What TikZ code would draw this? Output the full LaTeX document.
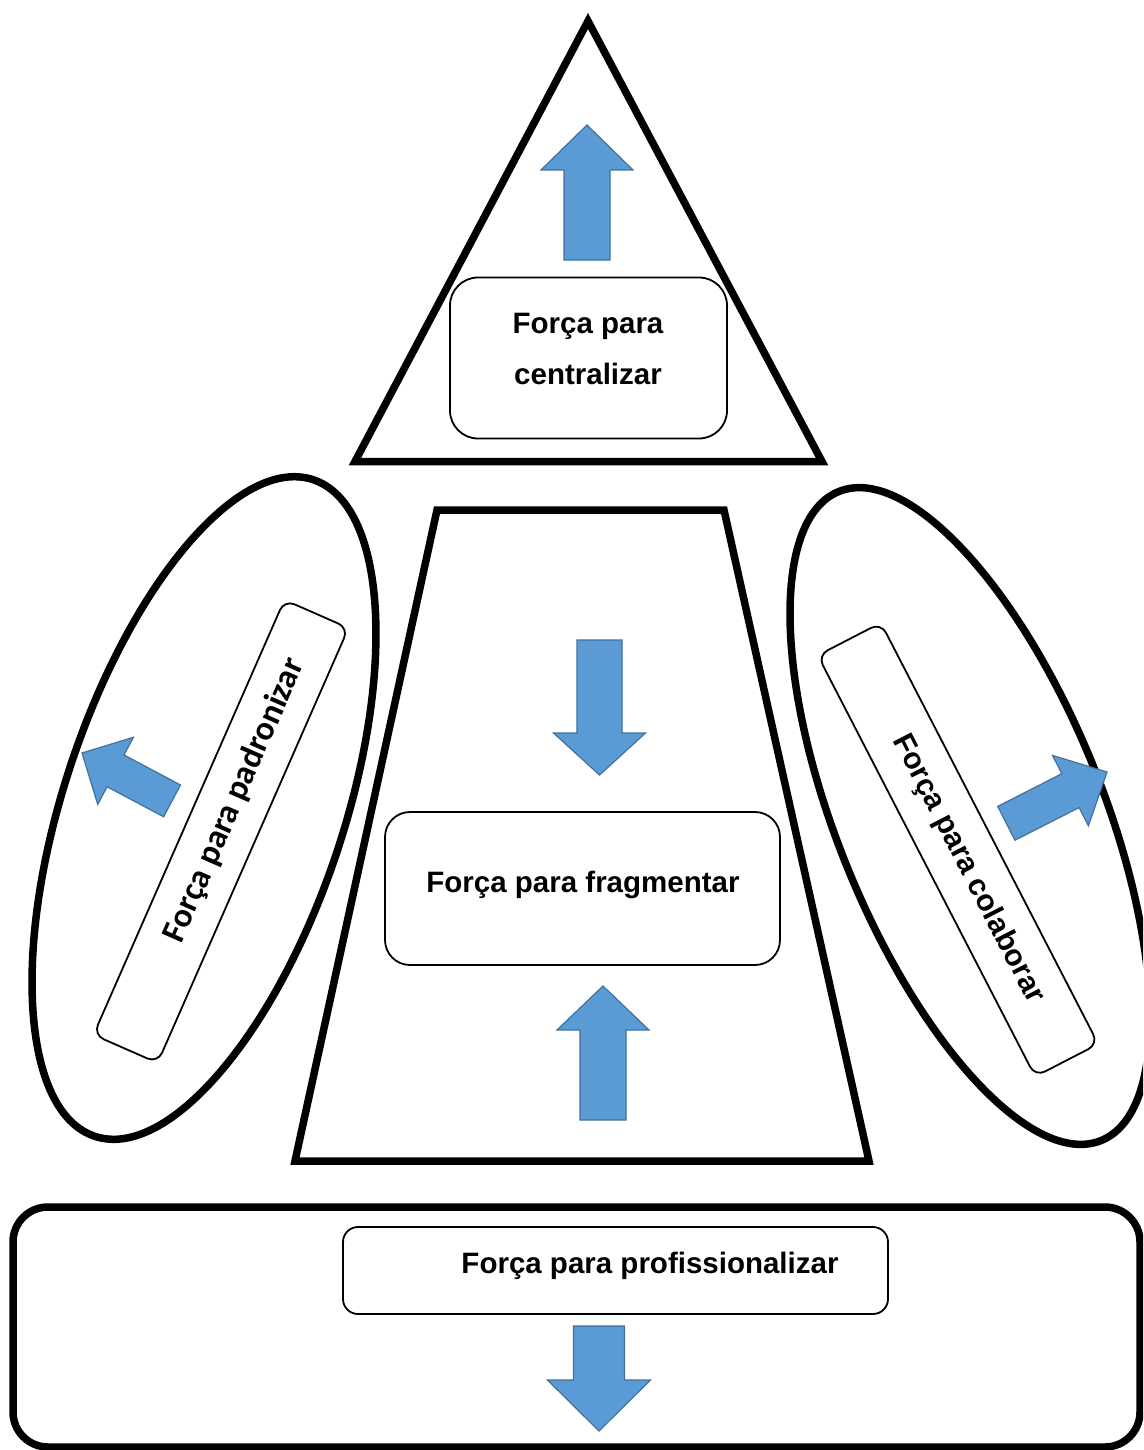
\documentclass[tikz,border=0pt]{standalone}
\usepackage{fontspec}
\setmainfont{Liberation Sans}
\newfontfamily\carl{Carlito}
\usetikzlibrary{shapes.geometric}
\definecolor{arrowfill}{HTML}{5B9BD5}
\definecolor{arrowline}{HTML}{41719C}
\tikzset{
  outline/.style={draw=black, line width=7.5pt, line join=miter},
  ellshape/.style={draw=black, line width=7.5pt, ellipse, inner sep=0pt, outer sep=0pt},
  rbox/.style={draw=black, line width=1.8pt, rounded corners=#1, fill=white, inner sep=0pt},
  rbox/.default=25pt,
  lbl/.style={font=\bfseries\fontsize{29.5}{51}\selectfont, align=center, inner sep=0pt},
  blockarrow/.style={fill=arrowfill, draw=arrowline, line width=1.2pt, line join=miter}
}
\newcommand\fatarrow[6]{%
  \begin{scope}[shift={#1}, rotate=#2]
    \draw[blockarrow] (0,0) -- (-#4,#5/2) -- (-#4,#6/2) -- (-#3,#6/2) -- (-#3,-#6/2) -- (-#4,-#6/2) -- (-#4,-#5/2) -- cycle;
  \end{scope}}
\begin{document}
\begin{tikzpicture}[x=1pt,y=-1pt]
\useasboundingbox (0,0) rectangle (1143,1450);
\clip (0,0) rectangle (1143,1450);
\fill[white] (0,0) rectangle (1143,1450);

% bottom frame
\draw[line width=7.5pt, rounded corners=35pt] (13,1207) rectangle (1140,1447);

% triangle and trapezoid
\draw[outline] (588,21) -- (822,461.5) -- (355,461.5) -- cycle;
\draw[outline] (437,510) -- (724,510) -- (869,1161) -- (295,1161) -- cycle;

% ellipses
\node[ellshape, rotate=71.6, minimum width=692pt, minimum height=280pt] (ellL) at (204,808) {};
\node[ellshape, rotate=112, minimum width=700pt, minimum height=266pt] (ellR) at (970,816) {};

% boxes
\node[rbox=28pt, minimum width=277pt, minimum height=161pt] (boxC) at (588.5,358) {};
\node[rbox=25pt, minimum width=395pt, minimum height=153pt] (boxF) at (582.5,888.5) {};
\node[rbox=15pt, minimum width=545pt, minimum height=87pt] (boxPr) at (615.5,1270.5) {};
\node[rbox=11pt, rotate=66.3, minimum width=475pt, minimum height=70pt] (boxPa) at (221,831.4) {};
\node[rbox=11pt, rotate=-62.7, minimum width=474pt, minimum height=71pt] (boxCo) at (958,849.7) {};

% arrows
\fatarrow{(587,125)}{90}{135}{45}{92}{46}
\fatarrow{(599.5,775)}{-90}{135}{42}{92}{45}
\fatarrow{(603,986)}{90}{134}{44}{92}{46}
\fatarrow{(599,1431)}{-90}{105}{51}{103}{51}
\fatarrow{(82,753)}{152}{102}{38}{76}{36}
\fatarrow{(1107,772)}{27}{113}{41}{79}{38}

% labels
\node[lbl] (tC) at (588,349) {Força para\\centralizar};
\node[lbl, anchor=base] (tF) at (583,892) {Força para fragmentar};
\node[lbl, anchor=base] (tPr) at (650,1273) {Força para profissionalizar};
\node[font=\carl\bfseries\fontsize{34}{40}\selectfont, rotate=66.3, inner sep=0pt] (tPa) at (234.7,800.3) {Força para padronizar};
\node[font=\bfseries\fontsize{30}{36}\selectfont, rotate=-62.7, inner sep=0pt] (tCo) at (968.1,869.2) {Força para colaborar};
\end{tikzpicture}
\end{document}
